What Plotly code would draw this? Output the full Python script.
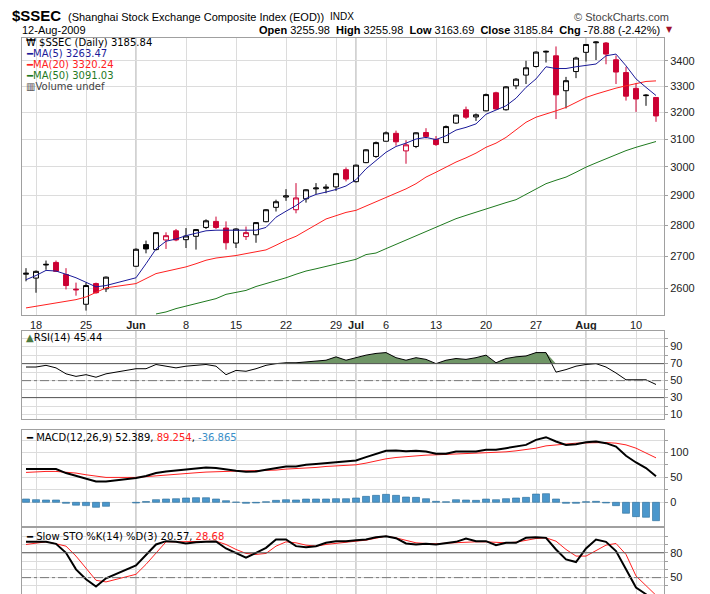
import plotly.graph_objects as go
import pandas as pd
import math

# ---------------- data ----------------
calendar_days = pd.bdate_range("2009-05-15", "2009-08-12")
holidays = ["2009-05-28", "2009-05-29"]
dates = [d for d in calendar_days if d.strftime("%Y-%m-%d") not in holidays]

opens = [2643,2631,2672,2680,2642,2597,2551,2614,2598,
         2668,2737,2721,2752,2782,2753,2764,2793,2813,2791,2742,2763,2769,2812,2860,2895,2852,2889,2923,2925,2930,2990,
         2948,3015,3037,3092,3121,3057,3073,3124,3099,3087,3159,3209,3182,3205,3274,3209,3301,3343,3377,3435,3420,3282,3357,
         3434,3473,3472,3404,3353,3291,3263,3255.98]
highs = [2662,2655,2686,2686,2662,2617,2617,2617,2636,
         2725,2750,2777,2777,2788,2791,2788,2820,2829,2813,2790,2796,2811,2854,2886,2922,2943,2922,2943,2939,2978,2998,
         3008,3063,3091,3128,3131,3096,3125,3140,3111,3150,3191,3221,3195,3271,3278,3300,3331,3400,3438,3441,3458,3336,3416,
         3468,3479,3476,3421,3376,3312,3269,3255.98]
lows = [2621,2586,2657,2650,2596,2577,2532,2583,2588,
        2666,2709,2718,2723,2748,2726,2721,2788,2788,2721,2726,2752,2743,2810,2846,2882,2840,2876,2905,2908,2916,2949,
        2945,3013,3032,3091,3076,3011,3067,3102,3075,3085,3156,3174,3167,3203,3209,3206,3288,3308,3373,3393,3174,3214,3331,
        3397,3403,3386,3308,3244,3201,3224,3163.69]
closes = [2646,2652,2674,2652,2608,2595,2608,2586,2634,
          2722,2723,2776,2766,2752,2765,2786,2815,2793,2743,2788,2776,2809,2852,2879,2899,2892,2920,2926,2929,2976,2957,
          3006,3061,3087,3123,3090,3079,3123,3109,3080,3146,3189,3181,3190,3267,3212,3297,3327,3372,3435,3438,3266,3321,3411,
          3466,3476,3427,3355,3261,3250,3264.72,3185.84]

ma5 = [2626,2639,2655,2653,2643,2632,2618,2604,2608,
       2632,2676,2723,2748,2755,2766,2774,2782,2784,2784,2784,2784,2784,2793,2827,2847,2866,2890,2904,2912,2921,2933,
       2955,2993,3023,3052,3073,3085,3100,3106,3098,3112,3133,3143,3156,3192,3208,3224,3253,3295,3328,3376,3369,3369,3376,
       3380,3387,3420,3427,3380,3328,3295,3263.47]
ma20 = [2540,2545,2550,2555,2560,2565,2573,2588,2601,
        2614,2630,2645,2652,2658,2666,2676,2687,2694,2697,2702,2708,2713,2720,2735,2751,2764,2782,2802,2821,2832,2843,
        2850,2864,2878,2894,2908,2923,2941,2964,2981,2999,3017,3032,3049,3070,3085,3106,3133,3162,3181,3192,3205,3218,3237,
        3256,3269,3282,3292,3301,3310,3318,3320.24]
ma50 = [None]*11 + [2522,2528,2538,2545,2553,2561,2568,2581,2588,2593,2605,2614,2622,2632,2643,2653,2660,2668,2676,2683,
        2690,2705,2710,2724,2738,2752,2767,2781,2794,2809,2822,2833,2844,2856,2867,2876,2886,2904,2923,2941,2953,2964,2981,
        2999,3014,3029,3044,3058,3070,3080,3091.03]

rsi = [66,66,68,65,58,55,57,54,58,
       64,64,69,67,65,67,68,69,67,57,62,61,64,68,70,71,71,72,73,74,78,74,
       77,80,82,83,77,74,77,75,70,74,76,75,77,80,71,76,78,79,83,83,60,63,67,
       69,70,66,59,51,51,51,45.44]

macd = [66.7,66.7,66.7,66.7,58.7,53,48.7,42,42,
        48.7,53,58.7,62,64,66.7,68.7,70,68.7,65.3,63.3,61.3,62,65.3,68.7,72,72,75.3,76.7,78.7,80.7,82,
        84,90.7,97.3,103.3,104,102.7,103.3,102,97.3,97.3,102,102,102,105.3,105.3,108.7,112,115.3,125.3,130.7,122,115.3,116.7,
        120.7,122,118.7,112,93.3,80,68.7,52.389]
signal = [60,61.3,62,62,60.7,58.7,55.3,52,50,
          50,51.3,53.3,55.3,56.7,58,59.3,60.7,62,62,62.7,63.3,63.3,64,64.7,66.7,67.3,68.7,70,72,73.3,74.7,
          75.3,78.7,83.3,87.3,90,92,93.3,94.7,95.3,96,96.7,97.3,98,98.7,100,101.3,103.3,105.3,108.7,113.3,115.3,117.3,118.7,
          119.3,120,120,118.7,115.3,108.7,98.7,89.254]

sto_k = [93.2,93.2,93.2,90.8,80,60,48,39.2,49.2,
         64.8,78,90,94,93.2,91.2,92.8,93.2,93.6,85.2,80,74,80,86,96,96,88,86.8,88,92,94,94,
         95.2,96,98.8,100,97.6,91.2,90,90.8,90,91.6,93.2,97.2,94,94,89.2,92,92,98,98.8,98,84,72,68.8,
         85.2,96,93.2,82,60,38,30,20.57]
sto_d = [90,92,93.2,90.8,88,76,62,46.8,44.8,
         54,66,80,93.2,93.2,93.2,93.2,93.6,94,90,84,79.2,78,79.2,88,93.2,92,89.2,88,90,91.6,93.2,
         94,95.2,97.2,100,98,94.8,92,91.2,90.8,91.6,92.4,93.2,93.2,93.2,92.8,92,92.8,95.2,97.2,98,94,84,76,
         76,82.8,89.2,91.2,78,52,40,28.68]

week_ticks = ["2009-05-18","2009-05-25","2009-06-01","2009-06-08","2009-06-15","2009-06-22","2009-06-29",
              "2009-07-01","2009-07-06","2009-07-13","2009-07-20","2009-07-27","2009-08-03","2009-08-10"]
week_labels = ["18","25","<b>Jun</b>","8","15","22","29","<b>Jul</b>","6","13","20","27","<b>Aug</b>","10"]
month_starts = ["2009-06-01","2009-07-01","2009-08-03"]

# ---------------- helpers ----------------
cal = [d.strftime("%Y-%m-%d") for d in calendar_days]
slot = {d: i for i, d in enumerate(cal)}
x = [slot[d.strftime("%Y-%m-%d")] for d in dates]
tickx = [slot[d] for d in week_ticks]
monthx = [slot[d] for d in month_starts]

W, H = 710, 594
def px_x(p): return p / W
def dom_y(top, bot): return [1 - bot / H, 1 - top / H]

RED = "#cc0033"
GRID = "#dcdcdc"
FRAME = "#a0a0a0"
AX = dict(family="Liberation Sans", size=11, color="#222")

fig = go.Figure()

idx_up = [k for k in range(len(x)) if k == 0 or closes[k] >= closes[k-1]]
idx_dn = [k for k in range(len(x)) if k > 0 and closes[k] < closes[k-1]]
for ids, col in [(idx_up, "#000000"), (idx_dn, RED)]:
    fig.add_trace(go.Candlestick(
        x=[x[k] for k in ids], open=[opens[k] for k in ids], high=[highs[k] for k in ids],
        low=[lows[k] for k in ids], close=[closes[k] for k in ids],
        increasing=dict(line=dict(color=col, width=1), fillcolor="white"),
        decreasing=dict(line=dict(color=col, width=1), fillcolor=col),
        whiskerwidth=0, xaxis="x", yaxis="y", showlegend=False, hoverinfo="skip"))

for arr, col in [(ma50, "#1f7a1f"), (ma20, "#ff2020"), (ma5, "#1a1a99")]:
    fig.add_trace(go.Scatter(x=x, y=arr, mode="lines", line=dict(color=col, width=1),
                             xaxis="x", yaxis="y", showlegend=False, connectgaps=False))

fig.add_trace(go.Scatter(x=x, y=[70]*len(x), mode="lines", line=dict(width=0),
                         xaxis="x2", yaxis="y2", showlegend=False))
fig.add_trace(go.Scatter(x=x, y=[max(v, 70) for v in rsi], mode="lines", line=dict(width=0),
                         fill="tonexty", fillcolor="#6f9566", xaxis="x2", yaxis="y2", showlegend=False))
fig.add_trace(go.Scatter(x=x, y=rsi, mode="lines", line=dict(color="black", width=1),
                         xaxis="x2", yaxis="y2", showlegend=False))

hist = [m - s for m, s in zip(macd, signal)]
fig.add_trace(go.Bar(x=x, y=hist, marker=dict(color="#4b97cc", line=dict(color="#2a6b99", width=0.6)),
                     width=0.7, xaxis="x3", yaxis="y3", showlegend=False))
fig.add_trace(go.Scatter(x=x, y=signal, mode="lines", line=dict(color="#ff2020", width=1),
                         xaxis="x3", yaxis="y3", showlegend=False))
fig.add_trace(go.Scatter(x=x, y=macd, mode="lines", line=dict(color="black", width=2),
                         xaxis="x3", yaxis="y3", showlegend=False))

fig.add_trace(go.Scatter(x=x, y=sto_d, mode="lines", line=dict(color="#ff2020", width=1),
                         xaxis="x4", yaxis="y4", showlegend=False))
fig.add_trace(go.Scatter(x=x, y=sto_k, mode="lines", line=dict(color="black", width=2),
                         xaxis="x4", yaxis="y4", showlegend=False))

xr = [-0.4, 63.8]
xdom = [px_x(14), px_x(656)]
def xax(anchor, labels):
    return dict(domain=xdom, range=xr, anchor=anchor, tickvals=tickx, ticktext=week_labels,
                showticklabels=labels, showgrid=True, gridcolor=GRID, zeroline=False,
                showline=True, linecolor=FRAME, mirror=True, ticks="", tickfont=AX,
                rangeslider=dict(visible=False), fixedrange=True)
def yax(anchor, dom, rng, vals, log=False):
    d = dict(domain=dom, range=rng, anchor=anchor, side="right", tickvals=vals, showgrid=True,
             gridcolor=GRID, zeroline=False, showline=True, linecolor=FRAME, mirror=True,
             ticks="outside", ticklen=3, tickcolor=FRAME, tickfont=AX)
    if log: d["type"] = "log"
    return d

fig.update_layout(
    width=W, height=H, margin=dict(l=0, r=0, t=0, b=0),
    paper_bgcolor="white", plot_bgcolor="white", bargap=0.3,
    xaxis=xax("y", True), xaxis2=xax("y2", False), xaxis3=xax("y3", False), xaxis4=xax("y4", False),
    yaxis=yax("x", dom_y(30, 308), [math.log10(2519), math.log10(3493)], [2600,2700,2800,2900,3000,3100,3200,3300,3400], log=True),
    yaxis2=yax("x2", dom_y(324, 412), [5.3, 108.5], [10,30,50,70,90]),
    yaxis3=yax("x3", dom_y(423, 520), [-48, 146], [0,50,100]),
    yaxis4=yax("x4", dom_y(522, 594), [23, 109.6], [50,80]),
)
fig.update_yaxes(tickvals=[0,25,50,75,100,125], ticktext=["0","","50","","100",""], selector=dict(anchor="x3"))
fig.update_yaxes(tickvals=[10,20,30,40,50,60,70,80,90,100], ticktext=["10","","30","","50","","70","","90",""], selector=dict(anchor="x2"))
fig.update_yaxes(tickvals=[30,40,50,60,70,80,90,100], ticktext=["","","50","","","80","",""], selector=dict(anchor="x4"))

shapes = []
for ax in ["x", "x2", "x3", "x4"]:
    yref = {"x": "y", "x2": "y2", "x3": "y3", "x4": "y4"}[ax] + " domain"
    for mx in monthx:
        shapes.append(dict(type="line", xref=ax, yref=yref, x0=mx, x1=mx, y0=0, y1=1,
                           line=dict(color="#b4b4b4", width=1.2), layer="below"))
for yv, dash in [(70, "solid"), (30, "solid"), (50, "dashdot")]:
    shapes.append(dict(type="line", xref="x2 domain", yref="y2", x0=0, x1=1, y0=yv, y1=yv,
                       line=dict(color="#555" if dash == "solid" else "#777", width=1, dash=dash)))
for yv, dash in [(80, "solid"), (50, "dashdot")]:
    shapes.append(dict(type="line", xref="x4 domain", yref="y4", x0=0, x1=1, y0=yv, y1=yv,
                       line=dict(color="#555" if dash == "solid" else "#777", width=1, dash=dash)))
fig.update_layout(shapes=shapes)

LF = "DejaVu Sans"
HF = "Liberation Sans"
def ann(xp, yp, text, size=10, color="black", family=LF, xanchor="left"):
    fig.add_annotation(x=xp / W, y=1 - yp / H, xref="paper", yref="paper", text=text, showarrow=False,
                       xanchor=xanchor, yanchor="middle", font=dict(family=family, size=size, color=color))

ann(2, 8, "<b>$SSEC</b>", 15, family=HF)
ann(58, 9, "(Shanghai Stock Exchange Composite Index (EOD))", 11, family=HF)
ann(320, 9, "INDX", 10, family=HF)
ann(663, 9, "© StockCharts.com", 11, color="#444", family=HF, xanchor="right")
ann(12, 22, "12-Aug-2009", 11, family=HF)
ann(654, 22, "<b>Open</b> 3255.98  <b>High</b> 3255.98  <b>Low</b> 3163.69  <b>Close</b> 3185.84  <b>Chg</b> -78.88 (-2.42%)",
    11, family=HF, xanchor="right")
ann(656, 22, "▼", 8, color="#a0102a")

ann(16, 35, "₩ $SSEC (Daily) 3185.84", 10)
ann(16, 46, "━MA(5) 3263.47", 10, "#1a1a99")
ann(16, 57, "━MA(20) 3320.24", 10, "#ff2020")
ann(16, 68, "━MA(50) 3091.03", 10, "#1f7a1f")
ann(16, 79, "▥Volume undef", 10, "#444")
ann(16, 331, "<span style='color:#4a7a40'>▲</span>RSI(14) 45.44", 10)
ann(16, 431, "━ MACD(12,26,9) 52.389, <span style='color:#ff2020'>89.254</span>, <span style='color:#3a8fc8'>-36.865</span>", 10)
ann(16, 530, "━ Slow STO %K(14) %D(3) 20.57, <span style='color:#ff2020'>28.68</span>", 10)

fig.write_html("out.html")
